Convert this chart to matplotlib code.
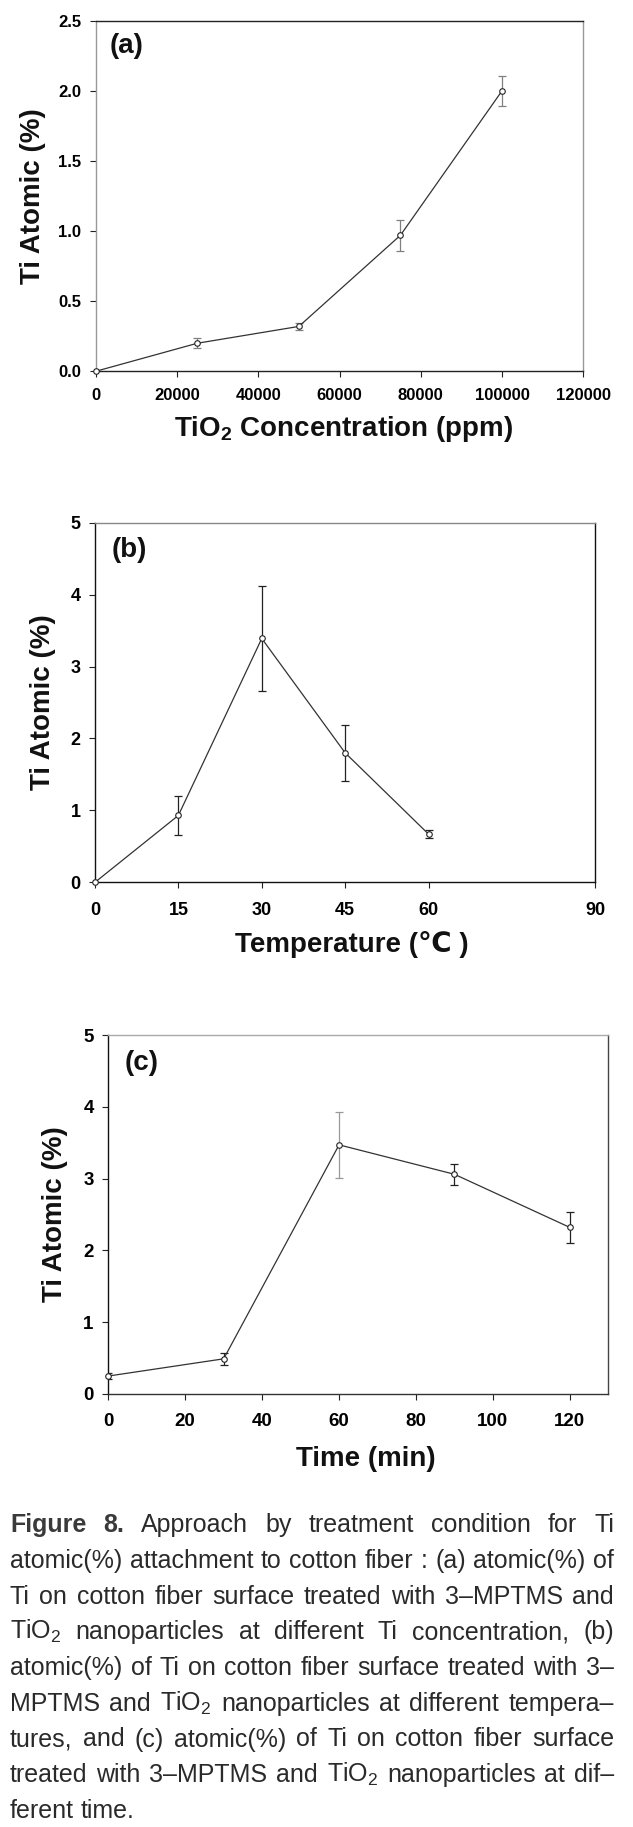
import numpy as np
import matplotlib
matplotlib.use("Agg")
import matplotlib.pyplot as plt

# (a) Ti atomic % vs TiO2 concentration
conc = [0, 25000, 50000, 75000, 100000]
ti_conc = [0.0, 0.20, 0.32, 0.97, 2.00]
ti_conc_err = [0.0, 0.035, 0.025, 0.11, 0.105]

# (b) Ti atomic % vs temperature
temp = [0, 15, 30, 45, 60]
ti_temp = [0.0, 0.93, 3.39, 1.80, 0.67]
ti_temp_err = [0.0, 0.27, 0.73, 0.39, 0.06]
temp_ticks = [0, 15, 30, 45, 60, 90]

# (c) Ti atomic % vs time
time_min = [0, 30, 60, 90, 120]
ti_time = [0.25, 0.49, 3.47, 3.06, 2.32]
ti_time_err = [0.04, 0.08, 0.455, 0.147, 0.22]

caption_lines = [
    "Figure 8. Approach by treatment condition for Ti",
    "atomic(%) attachment to cotton fiber : (a) atomic(%) of",
    "Ti on cotton fiber surface treated with 3\u2013MPTMS and",
    "TiO$_2$ nanoparticles at different Ti concentration, (b)",
    "atomic(%) of Ti on cotton fiber surface treated with 3\u2013",
    "MPTMS and TiO$_2$ nanoparticles at different tempera\u2013",
    "tures, and (c) atomic(%) of Ti on cotton fiber surface",
    "treated with 3\u2013MPTMS and TiO$_2$ nanoparticles at dif\u2013",
    "ferent time.",
]

plt.rcParams['font.family'] = ['Liberation Sans', 'DejaVu Sans']
plt.rcParams['mathtext.default'] = 'regular'

W, H = 633, 1827
fig = plt.figure(figsize=(W/100, H/100), dpi=100)

def box(l, t, r, b):
    return [l/W, 1 - b/H, (r-l)/W, (b-t)/H]

def ftext(x, y, s, **kw):
    return fig.text(x/W, 1 - y/H, s, **kw)

def panel(rect, x, y, err, err_cols, xlim, xticks, ylim, yticks, yfmt,
          tick_fs, xpad, spine_cols):
    ax = fig.add_axes(box(*rect))
    ax.set_xlim(*xlim)
    ax.set_ylim(*ylim)
    ax.set_xticks(xticks)
    ax.set_yticks(yticks)
    ax.set_yticklabels([yfmt.format(v) for v in yticks])
    ax.tick_params(direction='out', length=4, width=0.8, color='#222',
                   labelsize=tick_fs, top=False, right=False)
    ax.tick_params(axis='y', pad=6.5)
    ax.tick_params(axis='x', pad=xpad)
    for lab in ax.get_xticklabels() + ax.get_yticklabels():
        lab.set_fontweight('bold')
    for side, c in zip(['left', 'right', 'top', 'bottom'], spine_cols):
        ax.spines[side].set_color(c)
        ax.spines[side].set_linewidth(1.0)
    x = np.array(x); y = np.array(y); err = np.array(err)
    for xi, yi, ei, ci in zip(x, y, err, err_cols):
        if ei > 0:
            ax.errorbar([xi], [yi], yerr=[ei], fmt='none', ecolor=ci,
                        elinewidth=0.9, capsize=3, capthick=0.9, zorder=2)
    ax.plot(x, y, '-', color='#333333', lw=0.9, zorder=3, clip_on=False)
    ax.plot(x, y, 'o', ms=4, mfc='white', mec='#222222', mew=0.8,
            zorder=4, clip_on=False)
    return ax

panel((95.7, 20.7, 583.3, 371.3), conc, ti_conc, ti_conc_err, ['#808080']*5,
      (0, 120000), np.arange(0, 120001, 20000), (0, 2.5),
      np.arange(0, 2.51, 0.5), '{:.1f}', 12, 8,
      ['#999999', '#999999', '#222222', '#222222'])
panel((95, 522.7, 595.3, 882.3), temp, ti_temp, ti_temp_err, ['#222222']*5,
      (0, 90), temp_ticks, (0, 5), np.arange(0, 6, 1), '{:.0f}',
      13, 10.5, ['#111111', '#111111', '#888888', '#111111'])
panel((108.3, 1035, 608.3, 1394), time_min, ti_time, ti_time_err,
      ['#222222', '#222222', '#999999', '#222222', '#222222'],
      (0, 130), np.arange(0, 121, 20), (0, 5), np.arange(0, 6, 1), '{:.0f}',
      13.5, 9.5, ['#111111', '#444444', '#aaaaaa', '#333333'])

lab = dict(fontsize=20, fontweight='bold', color='#111111')
ftext(110, 46, '(a)', ha='left', va='center', **lab)
ftext(112, 550, '(b)', ha='left', va='center', **lab)
ftext(125, 1063, '(c)', ha='left', va='center', **lab)

ftext(33, 196, 'Ti Atomic (%)', rotation=90, ha='center', va='center', **lab)
ftext(43, 702, 'Ti Atomic (%)', rotation=90, ha='center', va='center', **lab)
ftext(55, 1214, 'Ti Atomic (%)', rotation=90, ha='center', va='center', **lab)
ftext(344, 429, 'TiO$_2$ Concentration (ppm)', ha='center', va='center', **lab)
ftext(352, 944, 'Temperature (\u2103 )', ha='center', va='center', **lab)
ftext(366, 1459, 'Time (min)', ha='center', va='center', **lab)

# caption, justified word by word
left_px, right_px = 10, 614
base0, step = 1532, 35.75
renderer = fig.canvas.get_renderer()

def measure(s, fs, bold=False):
    t = ftext(0, 0, s, fontsize=fs, fontweight='bold' if bold else 'normal')
    w = t.get_window_extent(renderer).width
    t.remove()
    return w

def line_width(line, fs, first):
    words = line.split(' ')
    tot = sum(measure(w, fs, first and k < 2) for k, w in enumerate(words))
    return tot, len(words)

cap_fs = 18.5
sp = measure('a a', cap_fs) - measure('aa', cap_fs)
while any(tw + (n - 1) * sp * 0.9 > right_px - left_px
          for tw, n in [line_width(l, cap_fs, k == 0)
                        for k, l in enumerate(caption_lines[:-1])]):
    cap_fs -= 0.25
    sp = measure('a a', cap_fs) - measure('aa', cap_fs)

for i, line in enumerate(caption_lines):
    words = line.split(' ')
    arts = []
    for j, w in enumerate(words):
        bold = (i == 0 and j < 2)
        t = ftext(0, base0 + i*step, w, fontsize=cap_fs,
                  fontweight='bold' if bold else 'normal',
                  color='#3a3a3a' if bold else '#2a2a2a',
                  ha='left', va='baseline')
        arts.append(t)
    widths = [a.get_window_extent(renderer).width for a in arts]
    if i == len(caption_lines) - 1:
        gap = sp
    else:
        gap = (right_px - left_px - sum(widths)) / (len(words) - 1)
    xp = left_px
    for a, wd in zip(arts, widths):
        a.set_x(xp / W)
        xp += wd + gap

fig.savefig('out.png', dpi=100)
